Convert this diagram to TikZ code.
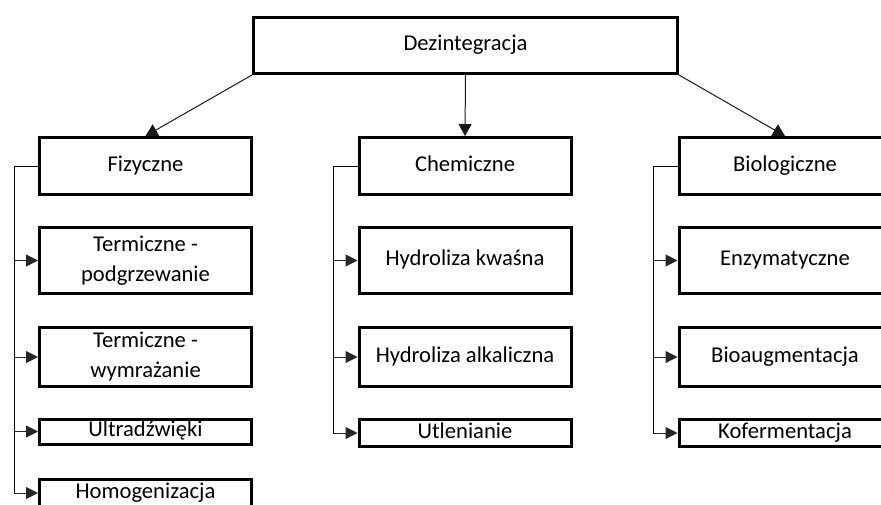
\documentclass[tikz,border=0pt]{standalone}
\usepackage{fontspec}
\setmainfont{Carlito}
\usepackage{tikz}
\usetikzlibrary{arrows.meta, positioning, calc}
\tikzset{
  % Boxes
  groupbox/.style={draw, line width=1.5pt, minimum width=106pt, inner sep=0pt, align=center,
    font=\fontsize{11.3}{15}\selectfont},
  oneline/.style={groupbox, text height=8pt, text depth=2.6pt},
  rootbox/.style={oneline, minimum width=212pt, minimum height=28pt},
  % Pointers
  treepointer/.style={-{Triangle[length=6pt,width=6.5pt]}, line width=0.5pt, draw=black!90},
  buspointer/.style={-{Triangle[length=6pt,width=6pt]}, line width=0.5pt, draw=black!85},
}
\begin{document}
\begin{tikzpicture}[x=0.5pt, y=-0.5pt]
      \useasboundingbox (0,0) rectangle (881,504);

      \node[rootbox] (dez) at (465.5,45.5) {Dezintegracja};

      % Fizyczne column
      \node[oneline, minimum height=28.5pt] (fiz) at (145.5,166) {Fizyczne};
      \node[groupbox, minimum height=33pt] (terpod) at (145.5,260.5) {Termiczne -\\podgrzewanie};
      \node[groupbox, minimum height=29.5pt] (terwym) at (145.5,357) {Termiczne -\\wymrażanie};
      \node[oneline, minimum height=12.5pt] (ultra) at (145.5,431.5) {Ultradźwięki};
      \node[oneline, minimum height=14pt] (homo) at (145.5,493) {Homogenizacja};

      % Chemiczne column
      \node[oneline, minimum height=28.5pt] (chem) at (465,166) {Chemiczne};
      \node[oneline, minimum height=33pt] (hydkw) at (465,260.5) {Hydroliza kwaśna};
      \node[oneline, minimum height=29.5pt] (hydal) at (465,357) {Hydroliza alkaliczna};
      \node[oneline, minimum height=13.5pt] (utlen) at (465,433) {Utlenianie};

      % Biologiczne column
      \node[oneline, minimum height=28.5pt] (bio) at (785,166) {Biologiczne};
      \node[oneline, minimum height=33pt] (enzym) at (785,260.5) {Enzymatyczne};
      \node[oneline, minimum height=29.5pt] (bioaug) at (785,357) {Bioaugmentacja};
      \node[oneline, minimum height=13.5pt] (koferm) at (785,433) {Kofermentacja};

      \draw[treepointer] (dez.south west) -- (fiz.north);
      \draw[treepointer] (dez.south) -- (chem.north);
      \draw[treepointer] (dez.south east) -- (bio.north);

      \coordinate (fizbus) at (14,0);
      \coordinate (chembus) at (333,0);
      \coordinate (biobus) at (653,0);

      \draw[line width=0.5pt] (fiz.west) -| (fizbus |- homo.west);
      \foreach \sub in {terpod, terwym, ultra, homo}
        \draw[buspointer] (fizbus |- \sub.west) -- (\sub.west);

      \draw[line width=0.5pt] (chem.west) -| (chembus |- utlen.west);
      \foreach \sub in {hydkw, hydal, utlen}
        \draw[buspointer] (chembus |- \sub.west) -- (\sub.west);

      \draw[line width=0.5pt] (bio.west) -| (biobus |- koferm.west);
      \foreach \sub in {enzym, bioaug, koferm}
        \draw[buspointer] (biobus |- \sub.west) -- (\sub.west);

    \end{tikzpicture}
\end{document}
